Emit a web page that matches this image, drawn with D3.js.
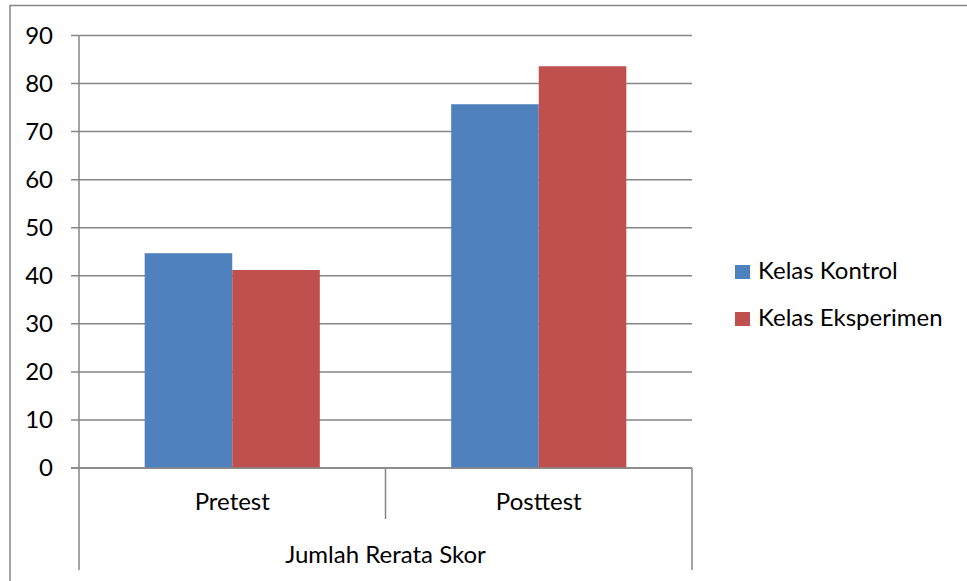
<html>
<head>
    <title>Jumlah Rerata Skor</title>
    <script src="https://d3js.org/d3.v7.min.js"></script>
</head>
<style>
    body { margin: 0; background: #fff; }
    text { font-family: Lato, "Open Sans", sans-serif; fill: #000; }
    .grid line { stroke: #868686; stroke-width: 1.5px; }
</style>
<body>
<script>
    // data
    let categories = ["Pretest", "Posttest"];
    let series = ["Kelas Kontrol", "Kelas Eksperimen"];
    let kontrol = [44.7, 75.7];
    let eksperimen = [41.2, 83.6];
    let yTicks = [0, 10, 20, 30, 40, 50, 60, 70, 80, 90];
    let groupLabel = "Jumlah Rerata Skor";
    let colors = ["#4F81BD", "#C0504D"];

    let svgwidth = 967, svgheight = 581;
    let plot = { left: 79, right: 692, top: 35.5, bottom: 468 };
    let fontSize = 24;

    let svg = d3.select("body").append("svg")
        .attr("width", svgwidth)
        .attr("height", svgheight);

    // outer chart border
    svg.append("rect")
        .attr("x", 10).attr("y", 5.5)
        .attr("width", 970).attr("height", 600)
        .attr("fill", "none")
        .attr("stroke", "#868686")
        .attr("stroke-width", 1.5);

    let y = d3.scaleLinear().domain([0, 90]).range([plot.bottom, plot.top]);
    let x0 = d3.scaleBand().domain(categories).range([plot.left, plot.right]).padding(0);
    let gap = x0.bandwidth() * 0.75 / 3.5;
    let x1 = d3.scaleBand().domain(series).range([gap, x0.bandwidth() - gap]).padding(0);

    // gridlines + ticks
    let grid = svg.append("g").attr("class", "grid");
    grid.selectAll("line")
        .data(yTicks)
        .enter().append("line")
        .attr("x1", plot.left - 8)
        .attr("x2", plot.right)
        .attr("y1", d => y(d))
        .attr("y2", d => y(d));

    svg.append("g").selectAll("text")
        .data(yTicks)
        .enter().append("text")
        .attr("x", 53)
        .attr("y", d => y(d))
        .attr("dy", "0.35em")
        .attr("text-anchor", "end")
        .attr("font-size", fontSize)
        .text(d => d);

    // bars
    let rows = categories.map((c, i) => ({ cat: c, vals: [kontrol[i], eksperimen[i]] }));
    let groups = svg.append("g").selectAll("g")
        .data(rows)
        .enter().append("g")
        .attr("transform", d => "translate(" + x0(d.cat) + ",0)");
    groups.selectAll("rect")
        .data(d => d.vals.map((v, j) => ({ s: series[j], v: v, j: j })))
        .enter().append("rect")
        .attr("x", d => x1(d.s))
        .attr("width", x1.bandwidth())
        .attr("y", d => y(d.v))
        .attr("height", d => y(0) - y(d.v))
        .attr("fill", d => colors[d.j]);

    // axis lines
    let axis = svg.append("g").attr("class", "grid");
    axis.append("line")
        .attr("x1", plot.left).attr("x2", plot.left)
        .attr("y1", plot.top).attr("y2", 570);
    axis.append("line")
        .attr("x1", plot.right).attr("x2", plot.right)
        .attr("y1", plot.bottom).attr("y2", 570);
    axis.append("line")
        .attr("x1", plot.left - 8).attr("x2", plot.right)
        .attr("y1", plot.bottom).attr("y2", plot.bottom);
    // divider between categories
    axis.selectAll(".div")
        .data(categories.slice(1))
        .enter().append("line")
        .attr("x1", d => x0(d)).attr("x2", d => x0(d))
        .attr("y1", plot.bottom).attr("y2", 519);

    // category labels
    svg.append("g").selectAll("text")
        .data(categories)
        .enter().append("text")
        .attr("x", d => x0(d) + x0.bandwidth() / 2)
        .attr("y", 510)
        .attr("text-anchor", "middle")
        .attr("font-size", fontSize)
        .text(d => d);

    svg.append("text")
        .attr("x", (plot.left + plot.right) / 2)
        .attr("y", 563)
        .attr("text-anchor", "middle")
        .attr("font-size", fontSize)
        .text(groupLabel);

    // legend
    let legend = svg.append("g").selectAll("g")
        .data(series)
        .enter().append("g")
        .attr("transform", (d, i) => "translate(735," + (265 + i * 47) + ")");
    legend.append("rect")
        .attr("width", 15).attr("height", 14)
        .attr("fill", (d, i) => colors[i]);
    legend.append("text")
        .attr("x", 23).attr("y", 14)
        .attr("font-size", fontSize)
        .text(d => d);
</script>
</body>
</html>
